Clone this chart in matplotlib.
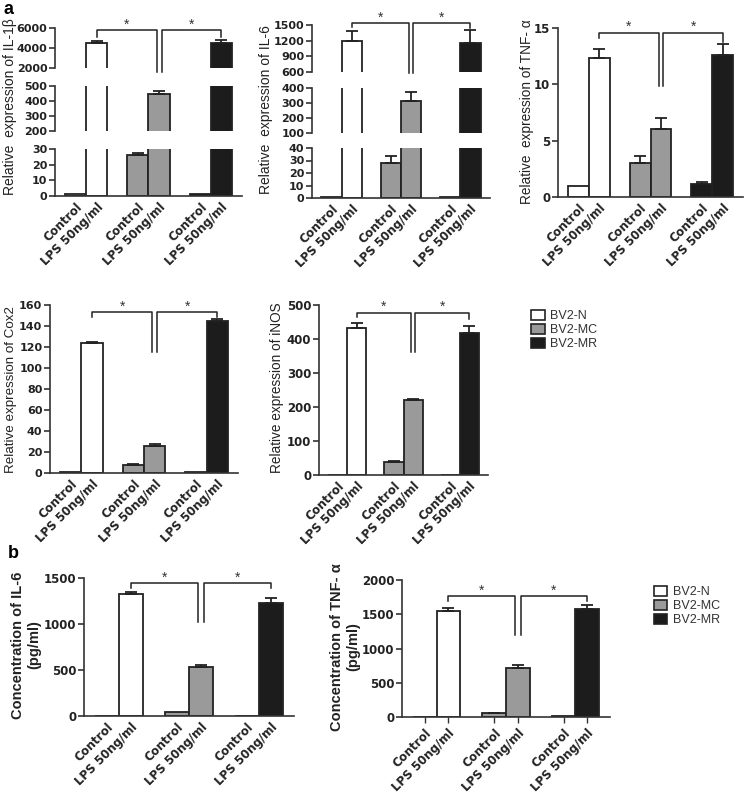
import matplotlib
matplotlib.use("Agg")
import matplotlib.pyplot as plt
from matplotlib.patches import Patch

plt.rcParams['font.family'] = ['Liberation Sans', 'DejaVu Sans']

# ---------------- data ----------------
groups = ['BV2-N', 'BV2-MC', 'BV2-MR']
treatments = ['Control', 'LPS 50ng/ml']
colors = ['#ffffff', '#9a9a9a', '#1c1c1c']

il1b_ctrl = [1, 26.2, 1]
il1b_ctrl_err = [0, 1.2, 0]
il1b_lps = [4480, 450, 4480]
il1b_lps_err = [230, 18, 300]

il6_ctrl = [1, 28.3, 1]
il6_ctrl_err = [0, 5.6, 0]
il6_lps = [1200, 313, 1160]
il6_lps_err = [190, 58, 235]

tnf_ctrl = [1.0, 3.05, 1.13]
tnf_ctrl_err = [0, 0.6, 0.23]
tnf_lps = [12.3, 6.05, 12.6]
tnf_lps_err = [0.8, 0.95, 1.0]

cox2_ctrl = [1, 7.6, 1]
cox2_ctrl_err = [0, 0.6, 0]
cox2_lps = [123.5, 26, 144.8]
cox2_lps_err = [1.5, 1.3, 1.5]

inos_ctrl = [1, 39, 1]
inos_ctrl_err = [0, 3, 0]
inos_lps = [431, 220.6, 418.6]
inos_lps_err = [15, 3, 20]

il6c_ctrl = [0, 40, 0]
il6c_ctrl_err = [0, 0, 0]
il6c_lps = [1322, 536, 1231]
il6c_lps_err = [29, 18, 55]

tnfc_ctrl = [6, 60, 8]
tnfc_ctrl_err = [0, 5, 0]
tnfc_lps = [1546, 722, 1576]
tnfc_lps_err = [39, 44, 58]

# ---------------- figure ----------------
W, H = 746, 797
fig = plt.figure(figsize=(W / 100, H / 100), dpi=100)

EDGE = '#222222'
BW = 0.34
OFF = 0.17
TICKFONT = ['DejaVu Sans']


def add_ax(x0, x1, ytop, ybot):
    return fig.add_axes([x0 / W, 1 - ybot / H, (x1 - x0) / W, (ybot - ytop) / H])


def style(ax, bottom=True, xticks=False, ysize=8.5):
    for s in ['top', 'right']:
        ax.spines[s].set_visible(False)
    ax.spines['left'].set_linewidth(1.2)
    ax.spines['left'].set_color('#333333')
    if bottom:
        ax.spines['bottom'].set_linewidth(1.2)
        ax.spines['bottom'].set_color('#333333')
    else:
        ax.spines['bottom'].set_visible(False)
    ax.tick_params(axis='y', direction='out', length=4, width=1.2, color='#333333',
                   labelsize=ysize, pad=1.5, labelcolor='#222222')
    for lab in ax.get_yticklabels():
        lab.set_fontweight('bold')
        lab.set_family(TICKFONT)
    ax.set_xlim(-0.5, 2.5)
    ax.patch.set_alpha(0)
    if bottom:
        pos = []
        labs = []
        for g in range(3):
            pos += [g - OFF, g + OFF]
            labs += treatments
        ax.set_xticks(pos)
        ax.set_xticklabels(labs, rotation=45, ha='right', rotation_mode='anchor',
                           fontsize=8.5, fontweight='bold', color='#222222',
                           family=TICKFONT)
        ax.tick_params(axis='x', length=4 if xticks else 0, width=1.0, pad=3,
                       color='#333333')
    else:
        ax.set_xticks([])


def bars(ax, ctrl, ctrl_err, lps, lps_err):
    for g in range(3):
        for j, (v, e) in enumerate([(ctrl[g], ctrl_err[g]), (lps[g], lps_err[g])]):
            x = g + (-OFF if j == 0 else OFF)
            ax.bar(x, v, width=BW, color=colors[g], edgecolor=EDGE, linewidth=1.3, zorder=2)
            if e > 0:
                ax.errorbar(x, v, yerr=[[0], [e]], fmt='none', ecolor=EDGE, elinewidth=1.3,
                            capsize=4.5, capthick=1.3, zorder=3)


def bracket(ax, y, y_l, y_r, y_mid, d=0.04):
    kw = dict(color='#222222', lw=1.1, clip_on=False, zorder=4)
    xl, xm, xr = 0 + OFF, 1 + OFF, 2 + OFF
    ax.plot([xl, xl, xm - d, xm - d], [y_l, y, y, y_mid], **kw)
    ax.plot([xm + d, xm + d, xr, xr], [y_mid, y, y, y_r], **kw)
    for xc in [(xl + xm - d) / 2, (xm + d + xr) / 2]:
        ax.annotate('*', (xc, y), xytext=(0, -1), textcoords='offset points',
                    ha='center', va='bottom', fontsize=10, color='#333333',
                    annotation_clip=False)


def broken(x0, x1, segs, lims, ticks, ctrl, ctrl_err, lps, lps_err, ysize):
    axes = []
    for i, ((yt, yb), lim, tk) in enumerate(zip(segs, lims, ticks)):
        ax = add_ax(x0, x1, yt, yb)
        bars(ax, ctrl, ctrl_err, lps, lps_err)
        ax.set_ylim(*lim)
        ax.set_yticks(tk)
        style(ax, bottom=(i == len(segs) - 1), ysize=ysize)
        axes.append(ax)
    return axes


# ---- Panel a: IL-1beta (broken) ----
a1 = broken(55, 242, [(28, 68), (86, 131), (149, 196)],
            [(2000, 6000), (200, 500), (0, 30)],
            [[2000, 4000, 6000], [200, 300, 400, 500], [0, 10, 20, 30]],
            il1b_ctrl, il1b_ctrl_err, il1b_lps, il1b_lps_err, 8)
bracket(a1[0], 5800, 5150, 5150, 1600)
fig.text(10 / W, 1 - 107 / H, 'Relative  expression of IL-1β', rotation=90,
         ha='center', va='center', fontsize=10, color='#222222')

# ---- Panel a: IL-6 (broken) ----
a2 = broken(312, 490, [(25, 72), (88, 133), (148, 198)],
            [(600, 1500), (100, 400), (0, 40)],
            [[600, 900, 1200, 1500], [100, 200, 300, 400], [0, 10, 20, 30, 40]],
            il6_ctrl, il6_ctrl_err, il6_lps, il6_lps_err, 8)
bracket(a2[0], 1535, 1465, 1440, 580)
fig.text(266 / W, 1 - 110 / H, 'Relative  expression of IL-6', rotation=90,
         ha='center', va='center', fontsize=10, color='#222222')

# ---- Panel a: TNF-alpha ----
a3 = add_ax(558, 743, 28, 197)
bars(a3, tnf_ctrl, tnf_ctrl_err, tnf_lps, tnf_lps_err)
a3.set_ylim(0, 15)
a3.set_yticks([0, 5, 10, 15])
style(a3, ysize=8.5)
bracket(a3, 14.6, 14.1, 13.8, 9.85)
fig.text(527 / W, 1 - 112 / H, 'Relative  expression of TNF- α', rotation=90,
         ha='center', va='center', fontsize=9.8, color='#222222')

# ---- Panel a: Cox2 ----
a4 = add_ax(50, 238, 305, 473)
bars(a4, cox2_ctrl, cox2_ctrl_err, cox2_lps, cox2_lps_err)
a4.set_ylim(0, 160)
a4.set_yticks(range(0, 161, 20))
style(a4, ysize=8)
bracket(a4, 153, 148.5, 148.5, 115)
fig.text(11 / W, 1 - 390 / H, 'Relative expression of Cox2', rotation=90,
         ha='center', va='center', fontsize=9.6, color='#222222')

# ---- Panel a: iNOS ----
a5 = add_ax(319, 488, 305, 475)
bars(a5, inos_ctrl, inos_ctrl_err, inos_lps, inos_lps_err)
a5.set_ylim(0, 500)
a5.set_yticks(range(0, 501, 100))
style(a5, ysize=8.5)
bracket(a5, 477, 464, 458, 363)
fig.text(277 / W, 1 - 388 / H, 'Relative expression of iNOS', rotation=90,
         ha='center', va='center', fontsize=9.8, color='#222222')

# ---- Panel b: IL-6 concentration ----
b1 = add_ax(84, 294, 578, 716)
bars(b1, il6c_ctrl, il6c_ctrl_err, il6c_lps, il6c_lps_err)
b1.set_ylim(0, 1500)
b1.set_yticks([0, 500, 1000, 1500])
style(b1, ysize=8.5)
bracket(b1, 1446, 1392, 1392, 1022)
fig.text(26 / W, 1 - 645 / H, 'Concentration of IL-6\n(pg/ml)', rotation=90,
         ha='center', va='center', fontsize=10.5, fontweight='bold', color='#222222',
         linespacing=1.15)

# ---- Panel b: TNF-alpha concentration ----
b2 = add_ax(402, 610, 580, 717)
bars(b2, tnfc_ctrl, tnfc_ctrl_err, tnfc_lps, tnfc_lps_err)
b2.set_ylim(0, 2000)
b2.set_yticks([0, 500, 1000, 1500, 2000])
style(b2, xticks=True, ysize=8.5)
bracket(b2, 1766, 1693, 1690, 1195)
fig.text(345 / W, 1 - 647 / H, 'Concentration of TNF- α\n(pg/ml)', rotation=90,
         ha='center', va='center', fontsize=10.5, fontweight='bold', color='#222222',
         linespacing=1.15)

# ---- legends ----
handles = [Patch(facecolor=c, edgecolor=EDGE, linewidth=1.2) for c in colors]
fig.legend(handles, groups, loc='upper left', bbox_to_anchor=(531 / W, 1 - 310 / H),
           frameon=False, fontsize=9, handlelength=1.1, handleheight=0.85,
           handletextpad=0.45, labelspacing=0.12, borderaxespad=0, borderpad=0,
           labelcolor='#333333')
fig.legend(handles, groups, loc='upper left', bbox_to_anchor=(654 / W, 1 - 586 / H),
           frameon=False, fontsize=9, handlelength=1.0, handleheight=0.85,
           handletextpad=0.5, labelspacing=0.12, borderaxespad=0, borderpad=0,
           labelcolor='#333333')

# ---- panel letters ----
fig.text(4 / W, 1 - 9 / H, 'a', fontsize=13, fontweight='bold', va='center', ha='left')
fig.text(8 / W, 1 - 553 / H, 'b', fontsize=13, fontweight='bold', va='center', ha='left')

fig.savefig('out.png', dpi=100)
